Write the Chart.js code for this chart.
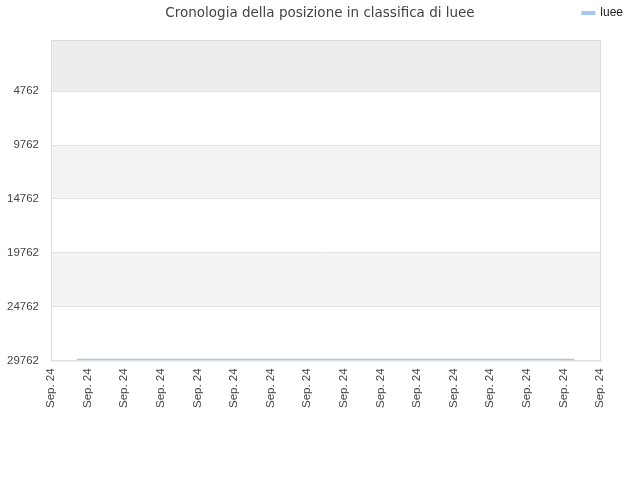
<!DOCTYPE html>
<html>
<head>
<meta charset="utf-8">
<script src="https://cdn.jsdelivr.net/npm/chart.js@4/dist/chart.umd.min.js"></script>
<style>
    html, body { margin: 0; padding: 0; background: #fff; }
    canvas { display: block; }
</style>
</head>
<body>
<canvas id="rankChart" width="640" height="480"></canvas>
<script>
// Chart data
const chartTitle = 'Cronologia della posizione in classifica di luee';
const seriesName = 'luee';
const xTickLabels = ['Sep. 24', 'Sep. 24', 'Sep. 24', 'Sep. 24', 'Sep. 24', 'Sep. 24', 'Sep. 24', 'Sep. 24',
                     'Sep. 24', 'Sep. 24', 'Sep. 24', 'Sep. 24', 'Sep. 24', 'Sep. 24', 'Sep. 24', 'Sep. 24'];
const yTickValues = [4762, 9762, 14762, 19762, 24762, 29762];
// time position (in tick steps) and ranking position
const rankTimes = [0.7, 14.3];
const rankValues = [29700, 29700];

const lineColor = '#a3c9f1';
const tickFont = { family: 'Liberation Sans', size: 11.5 };

// Background bands between the y ticks, plot frame and title
const bandPlugin = {
    id: 'bands',
    beforeInit(chart) {
        // leave a gap under the legend row
        const legend = chart.legend;
        if (legend) {
            const origFit = legend.fit;
            legend.fit = function() {
                origFit.call(this);
                this.height += 11;
            };
        }
    },
    beforeDraw(chart) {
        const { ctx, chartArea: area, scales: { y } } = chart;
        const edges = [y.min].concat(yTickValues);
        const fills = ['#ededed', '#ffffff', '#f3f3f3', '#ffffff', '#f3f3f3', '#ffffff'];
        ctx.save();
        for (let i = 0; i < edges.length - 1; i++) {
            const top = y.getPixelForValue(edges[i]);
            const bottom = y.getPixelForValue(edges[i + 1]);
            ctx.fillStyle = fills[i % fills.length];
            ctx.fillRect(area.left, top, area.right - area.left, bottom - top);
        }
        ctx.restore();
    },
    afterDraw(chart) {
        const { ctx, chartArea: area } = chart;
        ctx.save();
        ctx.strokeStyle = '#dcdcdc';
        ctx.lineWidth = 1;
        ctx.strokeRect(area.left + 0.5, area.top + 0.5, area.right - area.left, area.bottom - area.top);
        // title sits on the same row as the legend
        ctx.fillStyle = '#444';
        ctx.font = '13.5px "DejaVu Sans"';
        ctx.textAlign = 'center';
        ctx.textBaseline = 'middle';
        ctx.fillText(chartTitle, chart.width / 2, 13);
        ctx.restore();
    }
};

new Chart(document.getElementById('rankChart').getContext('2d'), {
    type: 'line',
    data: {
        datasets: [{
            label: seriesName,
            data: rankTimes.map((t, i) => ({ x: t, y: rankValues[i] })),
            borderColor: lineColor,
            backgroundColor: lineColor,
            borderWidth: 2,
            pointRadius: 0,
            fill: false,
            yAxisID: 'y'
        }]
    },
    options: {
        responsive: false,
        animation: false,
        devicePixelRatio: 1,
        layout: { padding: { top: 0, left: 0, right: 10, bottom: 64 } },
        plugins: {
            title: { display: false },
            tooltip: { enabled: false },
            legend: {
                position: 'top',
                align: 'end',
                labels: {
                    boxWidth: 12,
                    boxHeight: 2,
                    padding: 7,
                    color: '#222',
                    font: { family: 'Liberation Sans', size: 12 }
                }
            }
        },
        scales: {
            x: {
                type: 'linear',
                min: 0,
                max: xTickLabels.length - 1,
                afterBuildTicks: scale => {
                    scale.ticks = xTickLabels.map((l, i) => ({ value: i }));
                },
                ticks: {
                    minRotation: 90,
                    maxRotation: 90,
                    padding: 8,
                    autoSkip: false,
                    color: '#444',
                    font: tickFont,
                    callback: (v, i) => xTickLabels[i]
                },
                grid: { display: false, drawTicks: false },
                border: { display: false }
            },
            y: {
                reverse: true,
                min: 0,
                max: yTickValues[yTickValues.length - 1],
                afterBuildTicks: scale => {
                    scale.ticks = yTickValues.map(v => ({ value: v }));
                },
                afterFit: scale => { scale.width = 51; },
                ticks: {
                    padding: 12,
                    color: '#444',
                    font: tickFont,
                    callback: v => String(v)
                },
                grid: { color: '#e2e2e2', drawTicks: false },
                border: { display: false }
            },
            spacer: {
                position: 'right',
                display: true,
                ticks: { display: false },
                grid: { display: false },
                border: { display: false },
                afterFit: scale => { scale.width = 30; }
            }
        }
    },
    plugins: [bandPlugin]
});
</script>
</body>
</html>
